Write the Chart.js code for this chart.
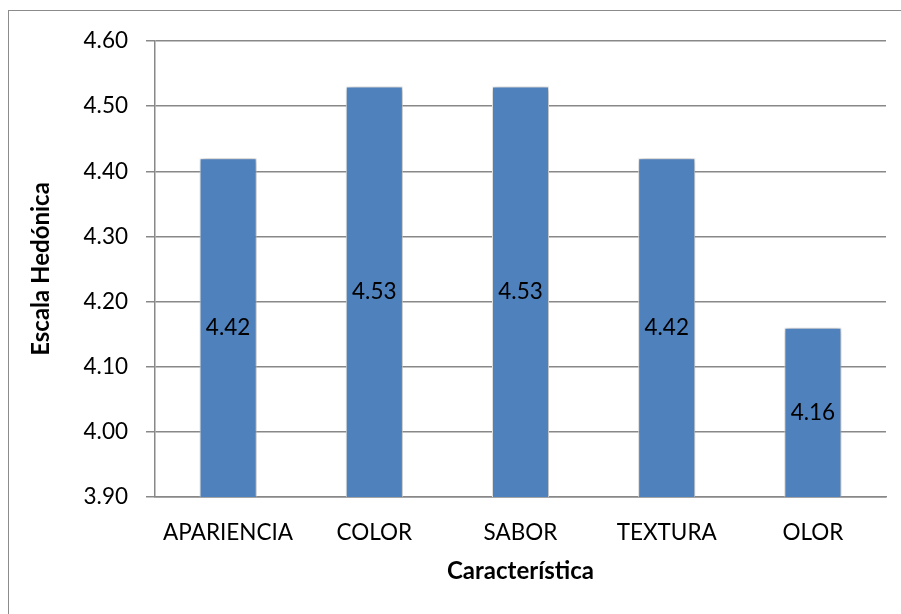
<!DOCTYPE html>
<html>
<head>
<meta charset="utf-8">
<script src="https://cdn.jsdelivr.net/npm/chart.js@4.4.1/dist/chart.umd.min.js"></script>
<style>
  html, body { margin: 0; padding: 0; background: #ffffff; }
  #wrap { position: relative; width: 901px; height: 614px; }
</style>
</head>
<body>
<div id="wrap"><canvas id="chart" width="901" height="614"></canvas></div>
<script>
// Puntuación hedónica media por característica
const categories = ['APARIENCIA', 'COLOR', 'SABOR', 'TEXTURA', 'OLOR'];
const scores = [4.42, 4.53, 4.53, 4.42, 4.16];
const yTicks = [3.90, 4.00, 4.10, 4.20, 4.30, 4.40, 4.50, 4.60];

const FONT = 'Lato, "Open Sans", sans-serif';
const GRID = '#888888';

// Marco exterior del gráfico
const framePlugin = {
  id: 'frame',
  beforeDraw(chart) {
    const ctx = chart.ctx;
    ctx.save();
    ctx.fillStyle = '#ffffff';
    ctx.fillRect(0, 0, chart.width, chart.height);
    ctx.strokeStyle = '#8c8c8c';
    ctx.lineWidth = 1;
    ctx.strokeRect(8.5, 10.5, chart.width + 20, chart.height + 20);
    ctx.restore();
  }
};

// Sombra suave detrás de las barras y valor centrado dentro de cada una
const barDecor = {
  id: 'barDecor',
  beforeDatasetsDraw(chart) {
    const ctx = chart.ctx;
    ctx.save();
    ctx.shadowColor = 'rgba(0,0,0,0.4)';
    ctx.shadowBlur = 6;
    ctx.shadowOffsetX = 1;
    ctx.shadowOffsetY = 0;
  },
  afterDatasetsDraw(chart) {
    const ctx = chart.ctx;
    ctx.restore();
    const meta = chart.getDatasetMeta(0);
    const values = chart.data.datasets[0].data;
    const yScale = chart.scales.y;
    const floor = yScale.getPixelForValue(yScale.min);
    ctx.save();
    ctx.font = '22.5px ' + FONT;
    ctx.fillStyle = '#000000';
    ctx.textAlign = 'center';
    ctx.textBaseline = 'middle';
    meta.data.forEach((bar, i) => {
      const bottom = Math.min(bar.base, floor);
      ctx.fillText(Number(values[i]).toFixed(2), bar.x, (bar.y + bottom) / 2);
    });
    ctx.restore();
  }
};

new Chart(document.getElementById('chart'), {
  type: 'bar',
  data: {
    labels: categories,
    datasets: [{
      data: scores,
      backgroundColor: '#4F81BD',
      borderColor: '#ffffff',
      borderWidth: 1,
      borderSkipped: 'bottom',
      categoryPercentage: 1,
      barPercentage: 0.39
    }]
  },
  options: {
    responsive: false,
    animation: false,
    devicePixelRatio: 1,
    layout: { padding: { left: 27, right: 15, top: 41, bottom: 28 } },
    plugins: {
      legend: { display: false },
      tooltip: { enabled: false }
    },
    scales: {
      x: {
        grid: { display: false, drawTicks: false },
        border: { display: true, color: GRID, width: 1.5 },
        ticks: { color: '#000000', font: { family: FONT, size: 22.5 }, padding: 22 },
        title: {
          display: true,
          text: 'Característica',
          color: '#000000',
          font: { family: FONT, size: 24, weight: 'bold' },
          padding: 0
        },
        afterFit(scale) { scale.height = 89; }
      },
      y: {
        min: 3.9,
        max: 4.6,
        afterBuildTicks(scale) { scale.ticks = yTicks.map(v => ({ value: v })); },
        grid: { color: GRID, lineWidth: 1.5, tickLength: 9 },
        border: { display: true, color: GRID, width: 1.5 },
        ticks: {
          color: '#000000',
          font: { family: FONT, size: 22.5 },
          padding: 18,
          callback: v => Number(v).toFixed(2)
        },
        title: {
          display: true,
          text: 'Escala Hedónica',
          color: '#000000',
          font: { family: FONT, size: 24, weight: 'bold' },
          padding: 0
        },
        afterFit(scale) { scale.width = 128; }
      }
    }
  },
  plugins: [framePlugin, barDecor]
});
</script>
</body>
</html>
